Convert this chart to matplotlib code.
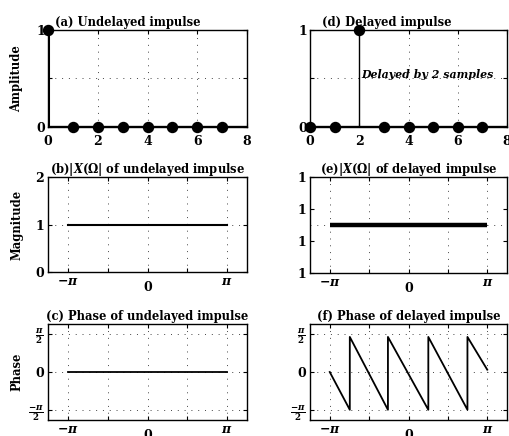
import numpy as np
import matplotlib
matplotlib.use('Agg')
import matplotlib.pyplot as plt
from matplotlib.transforms import ScaledTranslation

# ---------------- data ----------------
n = [0, 1, 2, 3, 4, 5, 6, 7]
x_undelayed = [1, 0, 0, 0, 0, 0, 0, 0]
x_delayed = [0, 0, 1, 0, 0, 0, 0, 0]

omega_line = [-np.pi, np.pi]
mag_undelayed = [1, 1]
mag_delayed = [1, 1]
phase_undelayed = [0, 0]

omega_f = [-3.14, -2.34, -2.34, -0.82, -0.82, 0.79, 0.79, 2.35, 2.35, 3.14]
phase_f = [0.0, -3.09, 2.87, -3.09, 2.87, -3.09, 2.87, -3.09, 2.87, 0.19]

n_ticks = [0, 2, 4, 6, 8]
omega_ticks = [-np.pi, -np.pi / 2, 0, np.pi / 2, np.pi]
omega_ticklabels = [r'$\boldsymbol{-\pi}$', '', '0', '', r'$\boldsymbol{\pi}$']
amp_ticks = [0, 0.5, 1]
amp_ticklabels = ['0', '', '1']
mag_ticks = [0, 1, 2]
mag_e_ticks = [0.97, 0.99, 1.01, 1.03]
mag_e_ticklabels = ['1', '1', '1', '1']
phase_ticks = [-np.pi, 0, np.pi]
phase_ticklabels = [r'$\boldsymbol{\frac{-\pi}{2}}$', '0', r'$\boldsymbol{\frac{\pi}{2}}$']

titles = ['(a) Undelayed impulse', '(d) Delayed impulse',
          r'(b)$\boldsymbol{|X(\Omega|}$ of undelayed impulse',
          r'(e)$\boldsymbol{|X(\Omega|}$ of delayed impulse',
          '(c) Phase of undelayed impulse', '(f) Phase of delayed impulse']

# ---------------- style ----------------
plt.rcParams['font.family'] = ['DejaVu Serif']
plt.rcParams['font.weight'] = 'bold'
plt.rcParams['mathtext.fontset'] = 'dejavuserif'
plt.rcParams['axes.linewidth'] = 1.0

W, H = 509, 436
fig = plt.figure(figsize=(W / 100, H / 100), dpi=100)

def add_ax(l, r, t, b):
    return fig.add_axes([l / W, (H - b) / H, (r - l) / W, (b - t) / H])

GRID = dict(color='#444444', linestyle=(0, (1, 6)), linewidth=0.7)
TFS = 8.3
LFS = 9

def style(ax):
    ax.tick_params(direction='in', length=3, width=0.8, top=True, right=True,
                   labelsize=LFS)
    for lab in ax.get_xticklabels() + ax.get_yticklabels():
        lab.set_fontweight('bold')

axA = add_ax(48, 247, 30, 127)
axD = add_ax(310, 507, 30, 127)
axB = add_ax(48, 247, 177, 272)
axE = add_ax(310, 507, 177, 273)
axC = add_ax(48, 247, 324, 420)
axF = add_ax(310, 507, 324, 420)

# ---- stem plots ----
for ax, data, stemw, title, tx in [(axA, x_undelayed, 2.2, titles[0], 0.40),
                                   (axD, x_delayed, 1.0, titles[1], 0.39)]:
    ax.set_xlim(0, 8)
    ax.set_ylim(0, 1)
    ax.axhline(0, color='k', lw=2.4, zorder=3)
    for xi, yi in zip(n, data):
        if yi != 0:
            ax.vlines(xi, 0, yi, color='k', lw=stemw, zorder=3)
    ax.plot(n, data, 'o', color='k', ms=7.2, zorder=4, clip_on=False)
    ax.set_xticks(n_ticks)
    ax.set_yticks(amp_ticks)
    ax.set_yticklabels(amp_ticklabels)
    ax.grid(True, **GRID)
    style(ax)
    ax.tick_params(axis='x', pad=6)
    ax.tick_params(axis='y', pad=2)
    ax.set_title(title, fontsize=TFS, fontweight='bold', x=tx, pad=3)

axA.set_ylabel('Amplitude', fontsize=TFS, fontweight='bold')
axD.text(2.08, 0.54, 'Delayed by 2 samples', fontsize=7.9, fontweight='bold',
         style='italic', va='center', ha='left')

# ---- frequency plots ----
def freq_axis(ax):
    ax.set_xlim(-5 * np.pi / 4, 5 * np.pi / 4)
    ax.set_xticks(omega_ticks)
    ax.set_xticklabels(omega_ticklabels)
    ax.grid(True, axis='x', **GRID)
    style(ax)
    ax.tick_params(axis='x', pad=2)
    ax.tick_params(axis='y', pad=3)
    for lab in ax.get_xticklabels():
        if lab.get_text() == '0':
            lab.set_transform(lab.get_transform() +
                              ScaledTranslation(0, -6 / 100, fig.dpi_scale_trans))

# (b)
axB.plot(omega_line, mag_undelayed, color='k', lw=1.5)
axB.set_ylim(0, 2)
axB.set_yticks(mag_ticks)
axB.grid(True, axis='y', **GRID)
freq_axis(axB)
axB.set_title(titles[2], fontsize=TFS, fontweight='bold', pad=3)
axB.set_ylabel('Magnitude', fontsize=TFS, fontweight='bold')

# (e)
axE.plot(omega_line, mag_delayed, color='k', lw=3.2, solid_capstyle='butt')
axE.set_ylim(0.97, 1.03)
axE.set_yticks(mag_e_ticks)
axE.set_yticklabels(mag_e_ticklabels)
axE.axhline(1.0, zorder=0, **GRID)
freq_axis(axE)
axE.set_title(titles[3], fontsize=TFS, fontweight='bold', pad=3)

# (c)
axC.plot(omega_line, phase_undelayed, color='k', lw=1.3)
for ax in (axC, axF):
    ax.set_ylim(-5 * np.pi / 4, 5 * np.pi / 4)
    ax.set_yticks(phase_ticks)
    ax.set_yticklabels(phase_ticklabels)
    ax.grid(True, axis='y', **GRID)
    freq_axis(ax)
axC.set_title(titles[4], fontsize=TFS, fontweight='bold', pad=3)
axC.set_ylabel('Phase', fontsize=TFS, fontweight='bold')

# (f)
axF.plot(omega_f, phase_f, color='k', lw=1.3)
axF.set_title(titles[5], fontsize=TFS, fontweight='bold', pad=3)

for ax in (axA, axB, axC):
    ax.yaxis.set_label_coords(-0.125, 0.5)

fig.savefig('out.png', dpi=100)
